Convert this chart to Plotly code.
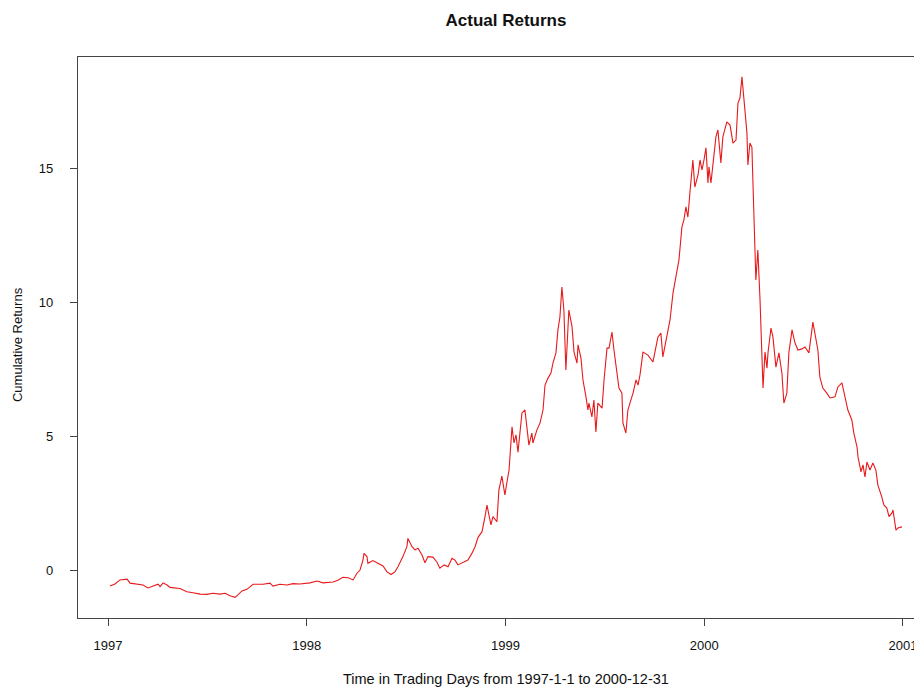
import plotly.graph_objects as go

# Time as decimal years (trading days 1997-01-01 .. 2000-12-31)
time_years = [
    1997.010, 1997.035, 1997.060, 1997.096, 1997.111, 1997.146, 1997.176, 1997.201, 1997.226, 1997.252,
    1997.262, 1997.277, 1997.297, 1997.312, 1997.362, 1997.397, 1997.428, 1997.463, 1997.498, 1997.528,
    1997.564, 1997.589, 1997.614, 1997.639, 1997.654, 1997.674, 1997.699, 1997.730, 1997.780, 1997.815,
    1997.830, 1997.865, 1997.901, 1997.931, 1997.966, 1998.016, 1998.052, 1998.082, 1998.132, 1998.157,
    1998.182, 1998.208, 1998.233, 1998.253, 1998.268, 1998.283, 1998.288, 1998.303, 1998.308, 1998.333,
    1998.358, 1998.384, 1998.404, 1998.424, 1998.444, 1998.459, 1998.484, 1998.504, 1998.509, 1998.530,
    1998.545, 1998.560, 1998.580, 1998.595, 1998.610, 1998.635, 1998.655, 1998.670, 1998.691, 1998.711,
    1998.731, 1998.746, 1998.761, 1998.786, 1998.811, 1998.831, 1998.847, 1998.862, 1998.882, 1998.897,
    1998.907, 1998.927, 1998.937, 1998.957, 1998.967, 1998.982, 1998.997, 1999.018, 1999.033, 1999.043,
    1999.053, 1999.063, 1999.083, 1999.098, 1999.108, 1999.118, 1999.133, 1999.138, 1999.158, 1999.174,
    1999.189, 1999.199, 1999.214, 1999.229, 1999.239, 1999.254, 1999.264, 1999.274, 1999.284, 1999.294,
    1999.304, 1999.314, 1999.319, 1999.335, 1999.345, 1999.360, 1999.365, 1999.380, 1999.390, 1999.405,
    1999.415, 1999.420, 1999.435, 1999.445, 1999.455, 1999.465, 1999.486, 1999.496, 1999.511, 1999.521,
    1999.536, 1999.546, 1999.561, 1999.571, 1999.586, 1999.591, 1999.606, 1999.616, 1999.631, 1999.642,
    1999.657, 1999.667, 1999.677, 1999.692, 1999.717, 1999.742, 1999.767, 1999.782, 1999.792, 1999.813,
    1999.828, 1999.843, 1999.863, 1999.873, 1999.888, 1999.898, 1999.908, 1999.918, 1999.928, 1999.943,
    1999.953, 1999.969, 1999.979, 1999.989, 1999.999, 2000.009, 2000.019, 2000.024, 2000.034, 2000.044,
    2000.059, 2000.069, 2000.084, 2000.094, 2000.114, 2000.130, 2000.145, 2000.160, 2000.170, 2000.180,
    2000.190, 2000.205, 2000.215, 2000.220, 2000.230, 2000.240, 2000.250, 2000.260, 2000.270, 2000.281,
    2000.296, 2000.306, 2000.316, 2000.321, 2000.336, 2000.346, 2000.361, 2000.376, 2000.391, 2000.401,
    2000.416, 2000.426, 2000.442, 2000.457, 2000.472, 2000.492, 2000.507, 2000.527, 2000.547, 2000.562,
    2000.572, 2000.582, 2000.597, 2000.617, 2000.633, 2000.658, 2000.673, 2000.693, 2000.708, 2000.723,
    2000.743, 2000.753, 2000.769, 2000.774, 2000.789, 2000.799, 2000.809, 2000.819, 2000.834, 2000.849,
    2000.864, 2000.874, 2000.894, 2000.904, 2000.919, 2000.930, 2000.945, 2000.950, 2000.965, 2000.975,
    2000.995,
]

cumulative_returns = [
    -0.60, -0.52, -0.37, -0.34, -0.49, -0.52, -0.56, -0.67, -0.60, -0.53,
    -0.62, -0.48, -0.56, -0.65, -0.69, -0.81, -0.85, -0.90, -0.91, -0.87,
    -0.90, -0.87, -0.96, -1.02, -0.93, -0.78, -0.72, -0.53, -0.53, -0.49,
    -0.60, -0.53, -0.56, -0.51, -0.52, -0.48, -0.41, -0.48, -0.45, -0.38,
    -0.27, -0.29, -0.37, -0.12, 0.00, 0.37, 0.62, 0.50, 0.25, 0.35,
    0.25, 0.15, -0.07, -0.17, -0.07, 0.12, 0.50, 0.87, 1.18, 0.87,
    0.75, 0.81, 0.56, 0.27, 0.50, 0.48, 0.30, 0.07, 0.19, 0.12,
    0.44, 0.37, 0.19, 0.27, 0.37, 0.62, 0.87, 1.22, 1.43, 1.99,
    2.42, 1.68, 1.99, 1.80, 2.99, 3.50, 2.80, 3.73, 5.34, 4.74,
    5.04, 4.40, 5.86, 5.97, 5.22, 4.66, 5.11, 4.74, 5.22, 5.49,
    5.97, 6.90, 7.16, 7.35, 7.72, 8.10, 8.96, 9.44, 10.56, 9.70,
    7.46, 9.33, 9.70, 9.07, 8.13, 7.72, 8.40, 7.91, 7.09, 6.46,
    5.97, 6.23, 5.71, 6.34, 5.15, 6.23, 6.04, 7.09, 8.28, 8.28,
    8.88, 8.21, 7.35, 6.79, 6.60, 5.49, 5.11, 5.97, 6.34, 6.60,
    7.09, 6.90, 7.28, 8.13, 8.02, 7.76, 8.69, 8.84, 7.95, 8.84,
    9.33, 10.33, 11.08, 11.57, 12.80, 13.06, 13.55, 13.17, 14.07, 15.30,
    14.29, 14.74, 15.30, 14.93, 15.30, 15.75, 14.44, 15.04, 14.44, 15.04,
    16.16, 16.42, 15.19, 16.16, 16.72, 16.60, 15.93, 16.04, 17.43, 17.61,
    18.40, 17.16, 16.31, 15.11, 15.93, 15.78, 12.80, 10.82, 11.94, 10.07,
    6.79, 8.13, 7.53, 8.10, 9.03, 8.69, 7.57, 8.10, 7.35, 6.23,
    6.60, 8.10, 8.96, 8.47, 8.21, 8.25, 8.32, 8.10, 9.25, 8.69,
    8.21, 7.20, 6.79, 6.60, 6.42, 6.46, 6.83, 6.98, 6.46, 5.97,
    5.60, 5.11, 4.59, 4.22, 3.66, 3.92, 3.47, 4.03, 3.73, 3.99,
    3.73, 3.17, 2.72, 2.43, 2.31, 1.99, 2.13, 2.24, 1.49, 1.57,
    1.61,
]

x_ticks = [1997, 1998, 1999, 2000, 2001]
x_tick_labels = ["1997", "1998", "1999", "2000", "2001"]
y_ticks = [0, 5, 10, 15]

FONT = "Liberation Sans, Arial, Helvetica, sans-serif"
AXIS_COLOR = "#444444"

fig = go.Figure()
fig.add_trace(go.Scatter(
    x=time_years, y=cumulative_returns, mode="lines",
    line=dict(color="#e8191a", width=1.1), hoverinfo="x+y", showlegend=False,
))

# the page body adds an 8px margin, so the figure is 8px smaller and shifted
fig.update_layout(
    width=914, height=679,
    margin=dict(l=70, r=0, t=49, b=69),
    paper_bgcolor="white", plot_bgcolor="white",
    font=dict(family=FONT, size=13, color="#111111"),
    title=dict(text="<b>Actual Returns</b>", x=(506 - 8) / 914, xanchor="center",
               y=1 - 12 / 679, yanchor="middle", yref="container",
               font=dict(family=FONT, size=17, color="#111111")),
    xaxis=dict(
        range=[1996.849, 2001.096], tickmode="array", tickvals=x_ticks, ticktext=x_tick_labels,
        showgrid=False, zeroline=False, showline=True, mirror=True,
        linecolor=AXIS_COLOR, linewidth=1.3, ticks="outside", ticklen=7,
        tickcolor=AXIS_COLOR, tickwidth=1, ticklabelstandoff=8,
        tickfont=dict(size=13),
    ),
    yaxis=dict(
        range=[-1.791, 19.142], tickmode="array", tickvals=y_ticks,
        showgrid=False, zeroline=False, showline=True, mirror=False,
        linecolor=AXIS_COLOR, linewidth=1.3, ticks="outside", ticklen=7,
        tickcolor=AXIS_COLOR, tickwidth=1, ticklabelstandoff=14,
        tickfont=dict(size=13),
    ),
    annotations=[
        dict(text="Time in Trading Days from 1997-1-1 to 2000-12-31", xref="paper", yref="paper",
             x=0.507, y=-61 / 561, xanchor="center", yanchor="middle", showarrow=False,
             font=dict(size=14.5)),
        dict(text="Cumulative Returns", xref="paper", yref="paper",
             x=-61 / 844, y=0.4866, xanchor="center", yanchor="middle", textangle=-90,
             showarrow=False, font=dict(size=13)),
    ],
)

fig.write_html("out.html")
